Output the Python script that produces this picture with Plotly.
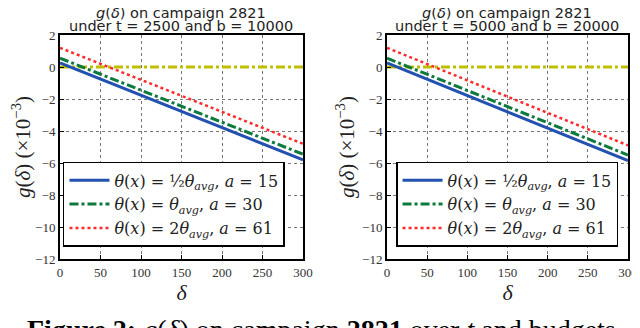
import plotly.graph_objects as go

# g(delta) for campaign 2821, values in 1e-3
delta = [0, 50, 100, 150, 200, 250, 300]

g_half_1 = [0.25, -0.76, -1.77, -2.78, -3.78, -4.79, -5.8]
g_avg_1 = [0.55, -0.45, -1.45, -2.45, -3.45, -4.45, -5.45]
g_double_1 = [1.2, 0.2, -0.8, -1.8, -2.8, -3.8, -4.8]

g_half_2 = [0.25, -0.77, -1.79, -2.8, -3.82, -4.83, -5.85]
g_avg_2 = [0.55, -0.46, -1.46, -2.48, -3.49, -4.5, -5.5]
g_double_2 = [1.2, 0.18, -0.82, -1.85, -2.87, -3.88, -4.9]

zero_line = [0, 0, 0, 0, 0, 0, 0]

title_top = "<i>g</i>(<i>δ</i>) on campaign 2821"
title_bottom = ["under t = 2500 and b = 10000", "under t = 5000 and b = 20000"]
names = ["<i>θ</i>(<i>x</i>) = ½<i>θ<sub>avg</sub></i>, <i>a</i> = 15",
         "<i>θ</i>(<i>x</i>) = <i>θ<sub>avg</sub></i>, <i>a</i> = 30",
         "<i>θ</i>(<i>x</i>) = 2<i>θ<sub>avg</sub></i>, <i>a</i> = 61"]
xticks = [0, 50, 100, 150, 200, 250, 300]
yticks = [-12, -10, -8, -6, -4, -2, 0, 2]

serif = "Liberation Serif"
styles = [dict(color="#2351b0", width=3, dash="solid"),
          dict(color="#0b7a3c", width=3, dash="dashdot"),
          dict(color="#ff2a2a", width=2.5, dash="dot")]

fig = go.Figure()
panels = [(g_half_1, g_avg_1, g_double_1), (g_half_2, g_avg_2, g_double_2)]
for i, series in enumerate(panels):
    xa = "x" if i == 0 else "x2"
    ya = "y" if i == 0 else "y2"
    lg = "legend" if i == 0 else "legend2"
    fig.add_trace(go.Scatter(x=delta, y=zero_line, mode="lines", showlegend=False,
                             line=dict(color="#bfbf00", width=3, dash="dashdot"), xaxis=xa, yaxis=ya))
    for s, name, st in zip(series, names, styles):
        fig.add_trace(go.Scatter(x=delta, y=s, mode="lines", name=name, line=st,
                                 xaxis=xa, yaxis=ya, legend=lg))

axis_common = dict(showline=True, linecolor="black", linewidth=2, mirror=True,
                   ticks="inside", ticklen=4, tickcolor="black", automargin=False,
                   showgrid=True, gridcolor="#777777", griddash="dot", gridwidth=1,
                   zeroline=False, tickfont=dict(family=serif, size=13, color="#333333"))

legend_common = dict(bgcolor="white", bordercolor="black", borderwidth=1.5,
                     font=dict(family="DejaVu Serif", size=16, color="#222222"),
                     xanchor="left", yanchor="top", tracegroupgap=0, itemwidth=40)

title_font = dict(family=serif, size=22, color="#222222")
ytitle_font = dict(family=serif, size=21, color="#222222")

# page body adds an 8px offset, so the figure is 632x320
fig.update_layout(
    width=632, height=320,
    margin=dict(l=0, r=0, t=0, b=0),
    plot_bgcolor="white", paper_bgcolor="white",
    xaxis=dict(domain=[0.0823, 0.4668], range=[0, 300], tickvals=xticks, anchor="y",
               title=dict(text="<i>δ</i>", font=title_font, standoff=0),
               **axis_common),
    yaxis=dict(domain=[0.2156, 0.9156], range=[-12, 2], tickvals=yticks, anchor="x",
               title=dict(text="<i>g</i>(<i>δ</i>) (×10<sup>−3</sup>)", font=ytitle_font, standoff=2),
               **axis_common),
    xaxis2=dict(domain=[0.5997, 0.981], range=[0, 300], tickvals=xticks, anchor="y2",
                title=dict(text="<i>δ</i>", font=title_font, standoff=0),
                **axis_common),
    yaxis2=dict(domain=[0.2156, 0.9156], range=[-12, 2], tickvals=yticks, anchor="x2",
                title=dict(text="<i>g</i>(<i>δ</i>) (×10<sup>−3</sup>)", font=ytitle_font, standoff=2),
                **axis_common),
    legend=dict(x=0.087, y=0.519, **legend_common),
    legend2=dict(x=0.614, y=0.519, **legend_common),
)

for i, cx in enumerate([0.274, 0.79]):
    fig.add_annotation(text=title_top, xref="paper", yref="paper", x=cx, y=0.984,
                       xanchor="center", yanchor="middle", showarrow=False,
                       font=dict(family="DejaVu Sans", size=14.5, color="#222222"))
    fig.add_annotation(text=title_bottom[i], xref="paper", yref="paper", x=cx, y=0.943,
                       xanchor="center", yanchor="middle", showarrow=False,
                       font=dict(family="DejaVu Sans", size=14.5, color="#222222"))

fig.add_annotation(text="<b>Figure 2:</b> <i>g</i>(<i>δ</i>) on campaign <b>2821</b> over <i>t</i> and budgets",
                   xref="paper", yref="paper", x=0.027, y=0.05, xanchor="left", yanchor="top",
                   showarrow=False, font=dict(family=serif, size=28, color="black"))

fig.write_html("out.html")
